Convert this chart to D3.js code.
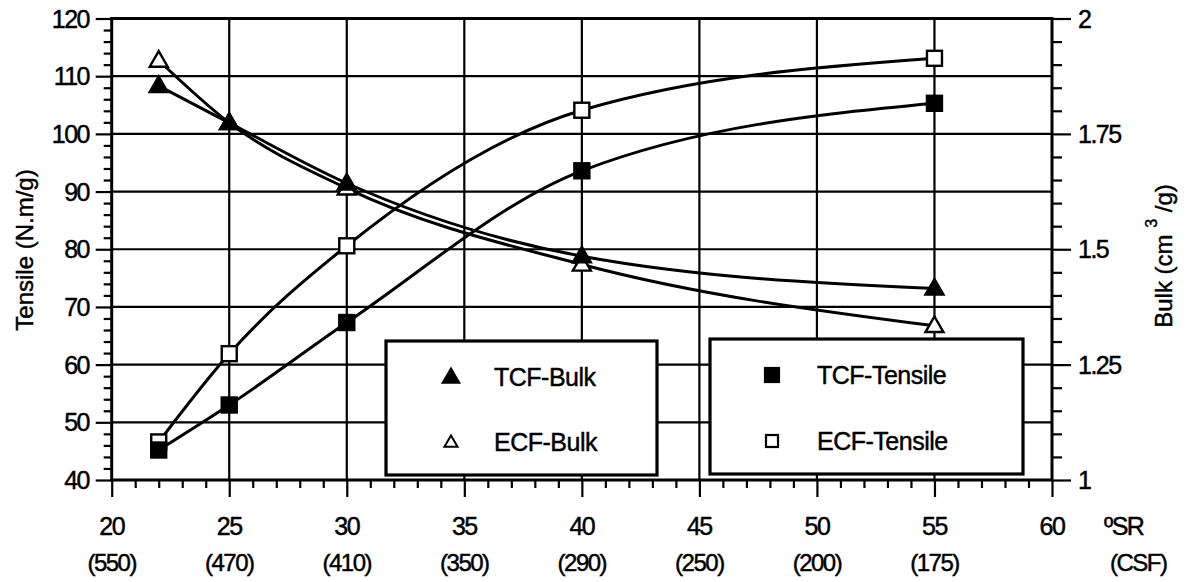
<!DOCTYPE html>
<html>
<head>
<meta charset="utf-8">
<script src="https://cdn.jsdelivr.net/npm/d3@7"></script>
<style>
  html, body { margin: 0; padding: 0; background: #fff; }
  svg { display: block; }
  text { font-family: "Liberation Sans", Arial, sans-serif; fill: #000; stroke: #000; stroke-width: 0.45px; }
</style>
</head>
<body>
<svg id="chart" width="1190" height="582"></svg>
<script>
// Freeness (ºSR) of the refined pulps and the matching CSF values
const freeness = [22, 25, 30, 40, 55];
const xTicks = [20, 25, 30, 35, 40, 45, 50, 55, 60];
const csfLabels = ["(550)", "(470)", "(410)", "(350)", "(290)", "(250)", "(200)", "(175)"];

// Tensile index, N.m/g (left axis)
const tcfTensile = [45.2, 53.0, 67.3, 93.6, 105.3];
const ecfTensile = [46.6, 61.9, 80.6, 104.1, 113.1];

// Bulk, cm3/g (right axis)
const tcfBulk = [1.854, 1.774, 1.643, 1.485, 1.415];
const ecfBulk = [1.909, 1.774, 1.632, 1.467, 1.334];

const tensileTicks = [40, 50, 60, 70, 80, 90, 100, 110, 120];
const bulkTicks = [1, 1.25, 1.5, 1.75, 2];

const svg = d3.select("#chart");
const L = 111.7, R = 1052, T = 18.5, B = 480;

const x = d3.scaleLinear().domain([20, 60]).range([L, R]);
const yT = d3.scaleLinear().domain([40, 120]).range([B, T]);
const yB = d3.scaleLinear().domain([1, 2]).range([B, T]);

// grid lines
const grid = svg.append("g").attr("stroke", "#000").attr("stroke-width", 2.2);
grid.selectAll("line.v").data(xTicks.slice(1, -1)).join("line")
  .attr("x1", d => x(d)).attr("x2", d => x(d)).attr("y1", T).attr("y2", B);
grid.selectAll("line.h").data(tensileTicks.slice(1, -1)).join("line")
  .attr("x1", L).attr("x2", R).attr("y1", d => yT(d)).attr("y2", d => yT(d));

// axes with minor and major ticks
const axL = svg.append("g").attr("transform", `translate(${L},0)`)
  .call(d3.axisLeft(yT).tickValues(d3.range(40, 121, 2)).tickSize(8).tickFormat(""));
axL.selectAll(".tick").filter(d => d % 10 === 0).select("line").attr("x2", -16);
const axR = svg.append("g").attr("transform", `translate(${R},0)`)
  .call(d3.axisRight(yB).tickValues(d3.range(0, 21).map(i => 1 + i * 0.05)).tickSize(10).tickFormat(""));
axR.selectAll(".tick").filter((d, i) => i % 5 === 0).select("line").attr("x2", 19);
const axX = svg.append("g").attr("transform", `translate(0,${B})`)
  .call(d3.axisBottom(x).tickValues(d3.range(20, 61, 1)).tickSize(8).tickFormat(""));
axX.selectAll(".tick").filter(d => d % 5 === 0).select("line").attr("y2", 17);
[axL, axR, axX].forEach(a => {
  a.select(".domain").remove();
  a.selectAll("line").attr("stroke", "#000").attr("stroke-width", 2.2);
});

// frame
svg.append("rect").attr("x", L).attr("y", T).attr("width", R - L).attr("height", B - T)
  .attr("fill", "none").attr("stroke", "#000").attr("stroke-width", 3);

// tick labels
svg.append("g").selectAll("text").data(tensileTicks).join("text")
  .attr("x", 89).attr("y", d => yT(d)).attr("dy", "0.36em")
  .attr("text-anchor", "end").attr("font-size", 25).attr("letter-spacing", -1.5)
  .text(d => d);
svg.append("g").selectAll("text").data(bulkTicks).join("text")
  .attr("x", 1078).attr("y", d => yB(d)).attr("dy", "0.36em")
  .attr("font-size", 25).attr("letter-spacing", -1.5)
  .text(d => String(d));
svg.append("g").selectAll("text").data(xTicks).join("text")
  .attr("x", d => x(d)).attr("y", 535)
  .attr("text-anchor", "middle").attr("font-size", 25).attr("letter-spacing", -1.5)
  .text(d => d);
svg.append("g").selectAll("text").data(csfLabels).join("text")
  .attr("x", (d, i) => x(xTicks[i])).attr("y", 571)
  .attr("text-anchor", "middle").attr("font-size", 24).attr("letter-spacing", -1.5)
  .text(d => d);

svg.append("text").attr("x", 1104).attr("y", 535).attr("font-size", 25).attr("letter-spacing", -1.5).text("ºSR");
svg.append("text").attr("x", 1110).attr("y", 571).attr("font-size", 24).attr("letter-spacing", -1.5).text("(CSF)");

// axis titles
svg.append("text").attr("transform", "translate(33,250) rotate(-90)")
  .attr("text-anchor", "middle").attr("font-size", 24).text("Tensile (N.m/g)");
const bt = svg.append("text").attr("transform", "translate(1172,256) rotate(-90)")
  .attr("text-anchor", "middle").attr("font-size", 24);
bt.append("tspan").text("Bulk (cm ");
bt.append("tspan").attr("dy", -15).attr("font-size", 16).text("3");
bt.append("tspan").attr("dy", 15).text(" /g)");

// series curves
const lineT = d3.line().x((d, i) => x(freeness[i])).y(d => yT(d)).curve(d3.curveMonotoneX);
const lineB = d3.line().x((d, i) => x(freeness[i])).y(d => yB(d)).curve(d3.curveMonotoneX);
const curves = svg.append("g").attr("fill", "none").attr("stroke", "#000").attr("stroke-width", 3);
curves.append("path").attr("d", lineT(tcfTensile));
curves.append("path").attr("d", lineT(ecfTensile));
curves.append("path").attr("d", lineB(tcfBulk));
curves.append("path").attr("d", lineB(ecfBulk));

// markers
const tri = d3.symbol().type(d3.symbolTriangle).size(140);
function squares(vals, scale, filled) {
  svg.append("g").selectAll("rect").data(vals).join("rect")
    .attr("x", (d, i) => x(freeness[i]) - 7.5).attr("y", d => scale(d) - 7.5)
    .attr("width", 15).attr("height", 15)
    .attr("fill", filled ? "#000" : "#fff").attr("stroke", "#000").attr("stroke-width", 2.4);
}
function triangles(vals, scale, filled) {
  svg.append("g").selectAll("path").data(vals).join("path")
    .attr("d", tri)
    .attr("transform", (d, i) => `translate(${x(freeness[i])},${scale(d) + 1})`)
    .attr("fill", filled ? "#000" : "#fff").attr("stroke", "#000").attr("stroke-width", 2.4);
}
squares(ecfTensile, yT, false);
squares(tcfTensile, yT, true);
triangles(ecfBulk, yB, false);
triangles(tcfBulk, yB, true);

// legends
function legendBox(x0, y0, w, h, items) {
  const g = svg.append("g");
  g.append("rect").attr("x", x0).attr("y", y0).attr("width", w).attr("height", h)
    .attr("fill", "#fff").attr("stroke", "#000").attr("stroke-width", 3.2);
  items.forEach(it => {
    if (it.shape === "tri") {
      g.append("path").attr("d", d3.symbol().type(d3.symbolTriangle).size(it.filled ? 120 : 75))
        .attr("transform", `translate(${it.mx},${it.y + 1})`)
        .attr("fill", it.filled ? "#000" : "#fff").attr("stroke", "#000").attr("stroke-width", 2);
    } else {
      const s = it.filled ? 14 : 12;
      g.append("rect").attr("x", it.mx - s / 2).attr("y", it.y - s / 2).attr("width", s).attr("height", s)
        .attr("fill", it.filled ? "#000" : "#fff").attr("stroke", "#000").attr("stroke-width", 2.2);
    }
    g.append("text").attr("x", it.tx).attr("y", it.y).attr("dy", "0.36em")
      .attr("font-size", 25).attr("letter-spacing", -0.5).text(it.label);
  });
}
legendBox(386, 341, 271, 134, [
  { shape: "tri", filled: true, mx: 451, tx: 494, y: 377, label: "TCF-Bulk" },
  { shape: "tri", filled: false, mx: 451, tx: 494, y: 442, label: "ECF-Bulk" }
]);
legendBox(710, 339, 313, 135, [
  { shape: "sq", filled: true, mx: 772, tx: 817, y: 375, label: "TCF-Tensile" },
  { shape: "sq", filled: false, mx: 772, tx: 817, y: 441, label: "ECF-Tensile" }
]);
</script>
</body>
</html>
